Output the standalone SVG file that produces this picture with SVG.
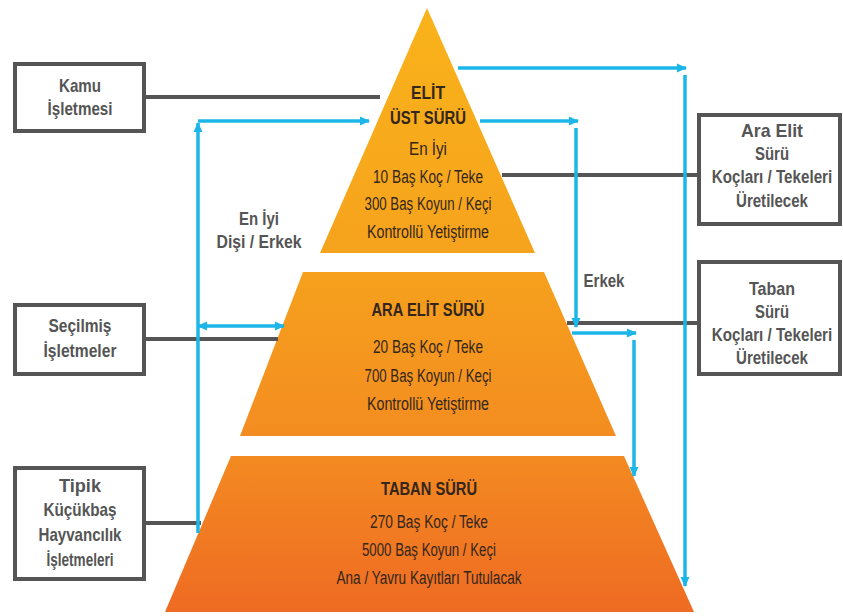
<svg xmlns="http://www.w3.org/2000/svg" width="843" height="616" viewBox="0 0 843 616">
<defs>
<linearGradient id="pg" gradientUnits="userSpaceOnUse" x1="0" y1="8" x2="0" y2="612">
<stop offset="0" stop-color="#f9b31a"/>
<stop offset="0.42" stop-color="#f6a21d"/>
<stop offset="0.74" stop-color="#f38a21"/>
<stop offset="1" stop-color="#ef6b23"/>
</linearGradient>
<marker id="ah" markerUnits="userSpaceOnUse" markerWidth="10" markerHeight="10" refX="9" refY="5" orient="auto-start-reverse" viewBox="0 0 10 10">
<path d="M0,0.5 L10,5 L0,9.5 z" fill="#1db6e9"/>
</marker>
<style>
.tier{fill:url(#pg);}
.pt{font-family:"Liberation Sans Narrow","Liberation Sans",Arial,sans-serif;font-size:18px;fill:#33261c;text-anchor:middle;}
.pb{font-weight:bold;}
.box{fill:#fff;stroke:#555;stroke-width:4;}
.bt{font-family:"Liberation Sans Narrow","Liberation Sans",Arial,sans-serif;font-size:19px;font-weight:bold;fill:#555;text-anchor:middle;}
.gl{stroke:#555;stroke-width:4;fill:none;}
.bl{stroke:#1db6e9;stroke-width:3.5;fill:none;}
.ba{marker-end:url(#ah);}
</style>
</defs>
<rect width="843" height="616" fill="#fff"/>

<g id="elit">
<polygon class="tier" points="427,8 535,253 320,253"/>
<text class="pt pb" x="428" y="99" textLength="34" lengthAdjust="spacingAndGlyphs">ELİT</text>
<text class="pt pb" x="428" y="124" textLength="76" lengthAdjust="spacingAndGlyphs">ÜST SÜRÜ</text>
<text class="pt" x="428" y="155" textLength="38" lengthAdjust="spacingAndGlyphs">En İyi</text>
<text class="pt" x="428" y="183" textLength="110" lengthAdjust="spacingAndGlyphs">10 Baş Koç / Teke</text>
<text class="pt" x="428" y="210" textLength="127" lengthAdjust="spacingAndGlyphs">300 Baş Koyun / Keçi</text>
<text class="pt" x="428" y="238" textLength="122" lengthAdjust="spacingAndGlyphs">Kontrollü Yetiştirme</text>
</g>

<g id="ara-elit">
<polygon class="tier" points="303,272 544,272 616,436 240,436"/>
<text class="pt pb" x="428" y="316" textLength="113" lengthAdjust="spacingAndGlyphs">ARA ELİT SÜRÜ</text>
<text class="pt" x="428" y="353" textLength="110" lengthAdjust="spacingAndGlyphs">20 Baş Koç / Teke</text>
<text class="pt" x="428" y="382" textLength="127" lengthAdjust="spacingAndGlyphs">700 Baş Koyun / Keçi</text>
<text class="pt" x="428" y="410" textLength="122" lengthAdjust="spacingAndGlyphs">Kontrollü Yetiştirme</text>
</g>

<g id="taban">
<polygon class="tier" points="231,456 624,456 694,612 165,612"/>
<text class="pt pb" x="429" y="495" textLength="96" lengthAdjust="spacingAndGlyphs">TABAN SÜRÜ</text>
<text class="pt" x="429" y="528" textLength="118" lengthAdjust="spacingAndGlyphs">270 Baş Koç / Teke</text>
<text class="pt" x="429" y="556" textLength="134" lengthAdjust="spacingAndGlyphs">5000 Baş Koyun / Keçi</text>
<text class="pt" x="429" y="584" textLength="185" lengthAdjust="spacingAndGlyphs">Ana / Yavru Kayıtları Tutulacak</text>
</g>

<g id="kamu">
<rect class="box" x="15" y="64" width="129" height="67"/>
<text class="bt" x="80" y="92" textLength="42" lengthAdjust="spacingAndGlyphs">Kamu</text>
<text class="bt" x="80" y="115" textLength="65" lengthAdjust="spacingAndGlyphs">İşletmesi</text>
</g>

<g id="secilmis">
<rect class="box" x="15" y="305" width="129" height="69"/>
<text class="bt" x="80" y="332" textLength="63" lengthAdjust="spacingAndGlyphs">Seçilmiş</text>
<text class="bt" x="80" y="357" textLength="73" lengthAdjust="spacingAndGlyphs">İşletmeler</text>
</g>

<g id="tipik">
<rect class="box" x="15" y="468" width="129" height="111"/>
<text class="bt" x="80" y="492" textLength="42" lengthAdjust="spacingAndGlyphs">Tipik</text>
<text class="bt" x="80" y="516" textLength="73" lengthAdjust="spacingAndGlyphs">Küçükbaş</text>
<text class="bt" x="80" y="541" textLength="83" lengthAdjust="spacingAndGlyphs">Hayvancılık</text>
<text class="bt" x="80" y="566" textLength="67" lengthAdjust="spacingAndGlyphs">İşletmeleri</text>
</g>

<g id="ara-elit-koc">
<rect class="box" x="699" y="115" width="141" height="109"/>
<text class="bt" x="772" y="137" textLength="62" lengthAdjust="spacingAndGlyphs">Ara Elit</text>
<text class="bt" x="772" y="160" textLength="34" lengthAdjust="spacingAndGlyphs">Sürü</text>
<text class="bt" transform="translate(772,183) scale(0.8,1)" x="0" y="0">Koçları / Tekeleri</text>
<text class="bt" x="772" y="207" textLength="72" lengthAdjust="spacingAndGlyphs">Üretilecek</text>
</g>

<g id="taban-koc">
<rect class="box" x="699" y="262" width="141" height="112"/>
<text class="bt" x="772" y="295" textLength="46" lengthAdjust="spacingAndGlyphs">Taban</text>
<text class="bt" x="772" y="318" textLength="34" lengthAdjust="spacingAndGlyphs">Sürü</text>
<text class="bt" transform="translate(772,341) scale(0.8,1)" x="0" y="0">Koçları / Tekeleri</text>
<text class="bt" x="772" y="364" textLength="72" lengthAdjust="spacingAndGlyphs">Üretilecek</text>
</g>

<g id="labels">
<text class="bt" x="259" y="225" textLength="40" lengthAdjust="spacingAndGlyphs">En İyi</text>
<text class="bt" x="259" y="248" textLength="85" lengthAdjust="spacingAndGlyphs">Dişi / Erkek</text>
<text class="bt" x="604" y="287" textLength="41" lengthAdjust="spacingAndGlyphs">Erkek</text>
</g>

<g id="connectors">
<line class="gl" x1="146" y1="97" x2="380" y2="97"/>
<line class="gl" x1="502" y1="175" x2="697" y2="175"/>
<line class="gl" x1="146" y1="339" x2="278" y2="339"/>
<line class="gl" x1="567" y1="323" x2="697" y2="323"/>
<line class="gl" x1="146" y1="523" x2="201" y2="523"/>

<line class="bl ba" x1="458" y1="68" x2="686" y2="68"/>
<line class="bl ba" x1="685" y1="75" x2="685" y2="586"/>
<line class="bl ba" x1="480" y1="121" x2="578" y2="121"/>
<line class="bl ba" x1="576" y1="128" x2="576" y2="327"/>
<line class="bl ba" x1="572" y1="333" x2="636" y2="333"/>
<line class="bl ba" x1="634" y1="340" x2="634" y2="476"/>
<line class="bl ba" x1="198" y1="533" x2="198" y2="123"/>
<line class="bl ba" x1="198" y1="121" x2="369" y2="121"/>
<line class="bl" x1="198" y1="326" x2="284" y2="326" marker-start="url(#ah)" marker-end="url(#ah)"/>
</g>
</svg>
